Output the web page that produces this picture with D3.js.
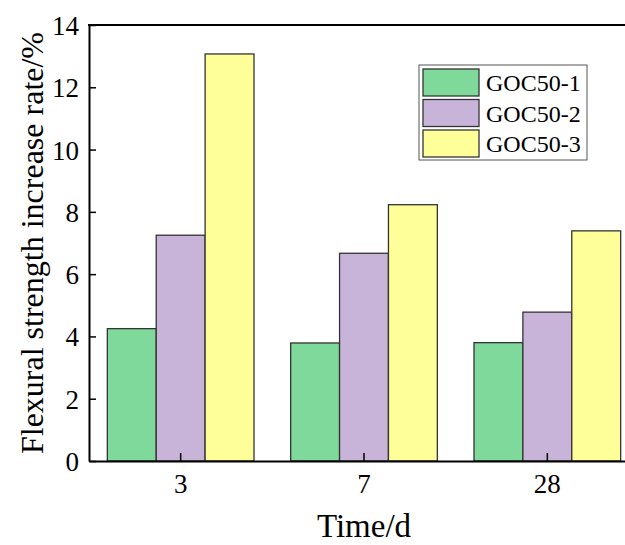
<!DOCTYPE html>
<html>
<head>
<meta charset="utf-8">
<script src="https://cdn.jsdelivr.net/npm/d3@7"></script>
<style>
  body { margin: 0; background: #fff; }
  svg { display: block; font-family: "Liberation Serif", "Times New Roman", serif; }
</style>
</head>
<body>
<svg id="chart" width="625" height="545"></svg>
<script>
// 数据
const categories = ['3', '7', '28'];
const seriesNames = ['GOC50-1', 'GOC50-2', 'GOC50-3'];
const seriesColors = ['#7fd99a', '#c8b4d9', '#ffff99'];
const goc1 = [4.25, 3.79, 3.80];
const goc2 = [7.25, 6.67, 4.78];
const goc3 = [13.07, 8.23, 7.39];
const yTicks = [0, 2, 4, 6, 8, 10, 12, 14];

const series = [goc1, goc2, goc3];

const svg = d3.select('#chart');
const margin = { left: 89, top: 25, right: 639, bottom: 461 };

const x = d3.scaleBand()
  .domain(categories)
  .range([margin.left, margin.right])
  .paddingInner(0.2)
  .paddingOuter(0.1);

const xSub = d3.scaleBand()
  .domain(seriesNames)
  .range([0, x.bandwidth()]);

const y = d3.scaleLinear()
  .domain([0, 14])
  .range([margin.bottom, margin.top]);

// 柱子
const groups = svg.append('g')
  .selectAll('g')
  .data(categories)
  .join('g')
  .attr('transform', d => `translate(${x(d)},0)`);

groups.selectAll('rect')
  .data((c, i) => seriesNames.map((s, k) => ({ s, k, v: series[k][i] })))
  .join('rect')
  .attr('x', d => xSub(d.s))
  .attr('y', d => y(d.v))
  .attr('width', xSub.bandwidth())
  .attr('height', d => y(0) - y(d.v))
  .attr('fill', d => seriesColors[d.k])
  .attr('stroke', '#333')
  .attr('stroke-width', 1.3);

// 坐标轴
const yAxis = d3.axisLeft(y).tickValues(yTicks).tickSizeInner(-7).tickSizeOuter(0).tickPadding(10);
const gy = svg.append('g').attr('transform', `translate(${margin.left},0)`).call(yAxis);
gy.attr('font-family', null).attr('font-size', null);
gy.select('.domain').attr('stroke', '#000').attr('stroke-width', 2);
gy.selectAll('.tick line').attr('stroke', '#000').attr('stroke-width', 1.5);
gy.selectAll('.tick text')
  .style('font-size', '27px')
  .attr('fill', '#000')
  .attr('dy', '0.35em');

const xAxis = d3.axisBottom(x).tickSizeInner(-8).tickSizeOuter(0);
const gx = svg.append('g').attr('transform', `translate(0,${margin.bottom})`).call(xAxis);
gx.attr('font-family', null).attr('font-size', null);
gx.select('.domain').attr('stroke', '#000').attr('stroke-width', 2);
gx.selectAll('.tick line').attr('stroke', '#000').attr('stroke-width', 1.5);
gx.selectAll('.tick text')
  .style('font-size', '27px')
  .attr('fill', '#000')
  .attr('y', 32)
  .attr('dy', 0);

// 上框线
svg.append('line')
  .attr('x1', margin.left - 1).attr('x2', margin.right)
  .attr('y1', margin.top).attr('y2', margin.top)
  .attr('stroke', '#000').attr('stroke-width', 2);

// 轴标题
svg.append('text')
  .attr('transform', `translate(43,${(margin.top + margin.bottom) / 2}) rotate(-90)`)
  .attr('text-anchor', 'middle')
  .style('font-size', '32px')
  .text('Flexural strength increase rate/%');

svg.append('text')
  .attr('x', x('7') + x.bandwidth() / 2)
  .attr('y', 537)
  .attr('text-anchor', 'middle')
  .style('font-size', '33px')
  .text('Time/d');

// 图例
const legend = svg.append('g').attr('transform', 'translate(419,65)');
legend.append('rect')
  .attr('width', 168).attr('height', 95)
  .attr('fill', '#fff').attr('stroke', '#555').attr('stroke-width', 1);

const items = legend.selectAll('g.item')
  .data(seriesNames)
  .join('g')
  .attr('class', 'item')
  .attr('transform', (d, i) => `translate(4,${4 + i * 30.5})`);

items.append('rect')
  .attr('width', 56).attr('height', 27)
  .attr('fill', (d, i) => seriesColors[i])
  .attr('stroke', '#333').attr('stroke-width', 1.3);

items.append('text')
  .attr('x', 63).attr('y', 14)
  .attr('dy', '0.35em')
  .style('font-size', '24px')
  .text(d => d);
</script>
</body>
</html>
